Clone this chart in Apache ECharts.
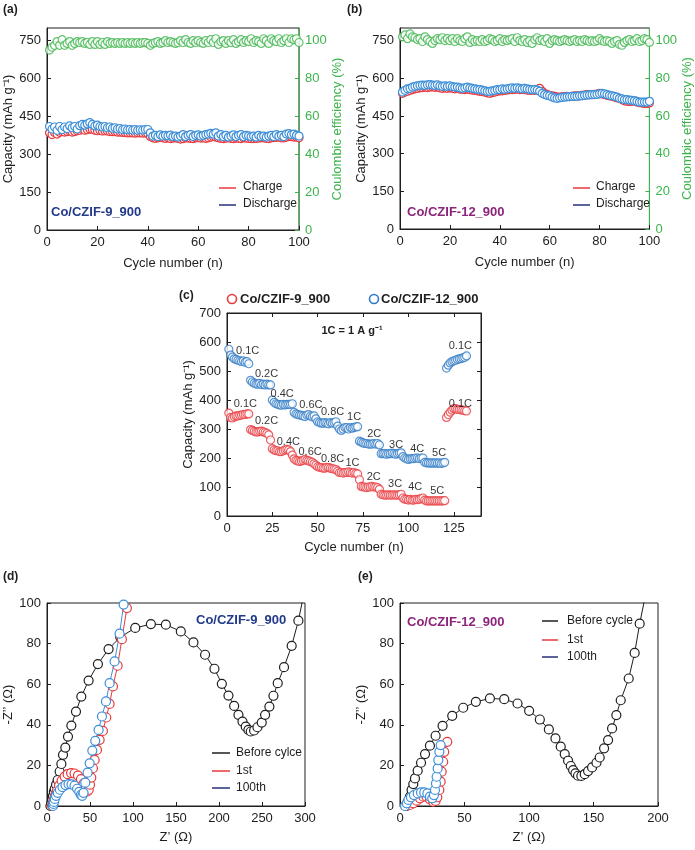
<!DOCTYPE html>
<html><head><meta charset="utf-8">
<script src="https://cdn.jsdelivr.net/npm/echarts@6/dist/echarts.min.js"></script>
<style>html,body{margin:0;padding:0;background:#fff}#c{width:695px;height:850px}</style>
</head><body><div id="c"></div>
<script>
// ---------- DATA ----------
// (a) Co/CZIF-9_900 cycling
const chargeA = [385,378,386,380,387,390,388,390,392,388, 390,393,395,398,395,397,400,398,395,393, 395,392,393,392,390,390,390,388,388,387, 386,385,385,385,384,385,385,384,385,382,
  370,365,363,365,367,365,363,365,362,364, 365,363,360,362,365,364,363,362,365,366, 364,365,363,365,368,370,368,365,363,362, 364,365,363,362,364,363,362,365,364,363,
  362,362,363,364,365,365,363,362,365,366, 367,368,365,365,368,370,370,368,368,365];
const dischargeA = [410,400,408,395,410,398,408,402,412,405, 410,400,413,418,415,420,425,418,412,415, 410,408,410,405,408,403,405,400,402,398, 400,397,398,396,398,395,397,396,398,398,
  385,372,375,370,377,372,375,373,376,370, 372,368,372,378,370,375,378,370,375,377, 372,375,378,380,383,380,385,372,378,370, 375,368,372,377,370,375,378,370,375,373,
  370,372,368,375,370,372,368,372,375,370, 378,372,375,370,380,382,378,380,375,372];
const ceA = [95,96.5,97.5,99.5,97.5,100.5,97.5,98.5,99.5,97.5, 98.5,99.5,99,99.5,98.5,99,98,99.5,98,99.5, 98,99,98,99.5,98.5,99,98.5,99,98.5,99, 98.5,99,98.5,99,98.5,99,98.5,99,99,98.5,
  97.5,98.5,99,99.5,98.5,99,100,99,99.5,99, 98.5,99,100,99,100.5,99,98.5,100,99,100, 99,98.5,100,99,100.5,99,101,98,99.5,100, 98.5,100,99,100.5,98.5,99.5,100.5,99,100,99.5,
  101,99,100,99.5,98.5,101,100,98.5,101,100, 99.5,101,99,100,101,99,101,100.5,101,99];
// (b) Co/CZIF-12_900 cycling
const chargeB = [540,545,548,552,555,558,560,562,563,565, 563,565,566,564,565,562,560,562,560,562, 560,558,560,557,556,555,557,555,553,552, 550,548,547,545,542,540,543,545,548,550,
  550,552,553,555,555,556,557,555,556,555, 553,552,553,552,555,560,548,540,535,532, 530,528,525,525,526,527,528,527,528,530, 530,530,532,533,535,535,535,536,537,540,
  538,535,532,530,528,525,522,520,515,510, 508,508,508,510,505,503,502,500,500,502];
const dischargeB = [545,552,558,560,565,568,570,572,573,572, 574,575,573,572,574,570,568,570,568,570, 567,565,565,562,560,562,565,562,560,558, 556,555,553,550,548,548,550,552,555,555,
  558,556,558,560,562,560,562,560,558,560, 558,556,555,555,553,548,540,535,532,530, 525,522,520,522,524,525,526,527,528,528, 528,530,530,532,533,534,535,535,536,538,
  540,538,535,532,530,528,525,520,518,515, 515,513,512,510,508,505,505,505,505,508];
const ceB = [102,103,101,103.5,102,101.5,100.5,101,99.5,102, 100.5,99.5,98.5,100,101,100.5,101.5,100,101,100, 101,99.5,101,100,99.5,101,102,99,100.5,99.5, 100,99.5,100.5,99.5,100,101,100.5,99.5,100,101,
  99.5,100.5,100,100.5,101,99.5,101.5,100,99.5,100.5, 99,100,98.5,100.5,101.5,100,100.5,99.5,101,98.5, 100,100.5,100,99.5,100,100.5,100,99.5,100,100.5, 99.5,100,99.5,100.5,100,99.5,100,99.5,100,101,
  100,99.5,100,99.5,98.5,99.5,100,98,97.5,99, 100,100.5,99.5,100,101,99.5,100,101,100.5,99];
// (c) rate capability, 12 cycles per rate
const rateRed = [355,340,338,342,345,345,347,348,350,350,352,352,
  298,295,292,290,290,292,293,290,288,285,280,262,
  232,228,225,225,222,222,225,228,230,228,222,210,
  197,192,190,188,190,192,195,192,190,188,185,180,
  175,170,168,167,165,165,168,167,165,163,162,160,
  155,150,150,148,150,150,152,150,148,150,147,145,
  125,102,100,100,98,100,100,102,100,100,98,92,
  75,73,72,72,73,72,72,73,72,72,73,75,
  62,58,57,55,57,55,55,57,56,58,60,62,
  55,52,52,52,52,52,52,52,52,52,52,53,
  340,350,358,365,370,370,368,367,366,365,363,362];
const rateBlue = [575,555,548,542,540,537,535,533,535,530,532,525,
  468,462,458,455,455,457,453,455,452,455,452,452,
  400,392,387,385,383,382,385,383,385,385,385,387,
  357,352,350,348,347,345,343,348,350,345,342,345,
  335,325,322,320,320,322,320,318,322,320,322,325,
  310,300,295,300,305,305,300,305,303,305,307,308,
  258,255,252,250,250,248,248,248,250,248,250,245,
  215,215,215,213,215,215,217,215,213,215,217,218,
  205,200,197,195,197,198,198,200,200,198,200,200,
  185,183,183,182,183,182,183,182,183,181,183,185,
  510,520,528,532,535,537,540,542,543,545,547,552];
const rateLabelsBlue = [[5,570,'0.1C'],[15.4,489,'0.2C'],[24,420,'0.4C'],[39.8,382,'0.6C'],[51.8,360,'0.8C'],[66.2,343,'1C'],[77.3,282,'2C'],[89.3,245,'3C'],[101,230,'4C'],[113,216,'5C'],[122.2,585,'0.1C']];
const rateLabelsRed = [[3.7,386,'0.1C'],[15.4,328,'0.2C'],[27.4,254,'0.4C'],[39.4,222,'0.6C'],[51.8,197,'0.8C'],[65.3,182,'1C'],[77,136,'2C'],[88.8,109,'3C'],[99.9,99,'4C'],[112,86,'5C'],[122.2,387,'0.1C']];
// (d) EIS Co/CZIF-9_900
const dBeforeX = [4,5,6,7,8,9,10.5,12.4,14.7,16.7,18.6,21.3,24.4,28.3,33.7,39.9,48.4,59.2,71.6,85.2,102.6,120.8,138.2,155.6,170.3,183.8,194.7,203.3,211,217.6,222.6,227.3,231.1,234.2,236.9,240.8,244.7,249.7,253.6,258.6,263.3,268.3,275.6,284.5,292.3,298];
const dBeforeY = [0,1.5,3,5,7,8.5,10.5,12.8,17,20.7,25.2,28.8,34.2,39.6,46.5,53.9,61.8,69.9,77.3,83.2,87.7,89.6,89.3,86,80.6,74.5,67.6,60.2,54.4,49.3,44.9,41.6,39.1,37.5,36.7,37.2,38.8,41.1,44.9,49,54.3,60.5,68.4,78.9,91.3,103];
const d1stX = [6,7,8,9.5,11.5,14,17,20.5,24,28,32,36,39.5,42.5,45,47,48.5,50,51.5,53.4,55.4,58.1,61.2,65,68.9,72.8,76.7,82.1,87.1,92.9,95];
const d1stY = [0,1.5,3,5,7.5,10,12.5,14.5,15.7,16.2,16,15,13.2,11,8.8,7.2,8,10.5,14,18.6,22.7,27.6,32.6,37,43.6,50.3,58.9,69.1,82.2,97.5,104];
const d100X = [7,7.5,8,9,10.5,12.5,15,18,21.5,25,28.5,32,35,37.5,39.5,41,42.5,44.5,47.2,49.6,52.7,56.1,60,63.9,68.6,72.8,78.6,84.4,89.1,91];
const d100Y = [0,1,2,3.5,5,6.5,8,9.3,10.3,10.8,10.7,10,8.5,7,5.5,5,6.5,11.5,16.4,21,27.3,32.1,37.5,44.1,51.5,60.5,71.2,84.9,99.2,104];
// (e) EIS Co/CZIF-12_900
const eBeforeX = [5,6,7.7,9,10.3,11.6,13.7,16.3,19.4,23.2,27.6,33,40.5,49,58.8,69.7,80.8,91.1,100.1,108.4,115.4,120.5,124.6,127.7,130.3,132.4,134.2,136,138,140.6,143.2,145.8,148.9,152.3,154.8,158.2,161.3,164.4,167.7,171.1,177.3,181.9,185.8,190];
const eBeforeY = [0,2,4.6,7.9,10.8,13.6,17.4,21.3,25.6,29.7,34.6,39.5,44.4,48.4,51.3,53,52.6,50.5,46.9,42.6,37.7,33.3,29.2,25.6,22.3,19.7,17.7,16.1,14.9,14.8,15.7,17.2,19,21.3,23.9,28.4,32.5,38.2,44.8,52.1,62.8,75.4,89.8,103];
const e1stX = [4,5.5,7.7,10.3,12.9,15.5,18.1,20.6,23.2,25.8,27.5,28.9,30.5,31.5,32.3,33.5,34.3,36.6];
const e1stY = [0,0.3,0.5,1.3,2.6,3.8,4.6,4.6,3.3,2.1,2.5,4.3,7.9,12,16.9,21.8,26.7,31.6];
const e100X = [3.9,5.2,6.5,8.5,10.8,13.7,16.3,18.8,21.2,23.2,25,26.3,27.1,27.9,28.4,29.2,29.7,30.5,31.5];
const e100Y = [0,1.3,3,4.3,5.4,6.2,6.7,6.7,6.2,4.6,3.8,5.4,7.9,11.1,14.4,18.5,22.6,26.7,30];

// ---------- STYLE ----------
const FF = "'Liberation Sans', Arial, Helvetica, sans-serif";
const RED = '#e8383d', BLUE = '#3d8ed8', NAVY = '#27317c', GREEN = '#3cb44b', INK = '#1e1e1e', TNAVY = '#23398a', PURPLE = '#8c2579';

function pairs(xs, ys){ return xs.map((x,i)=>[x, ys[i]]); }
function cyc(arr){ return arr.map((v,i)=>[i+1, v]); }

function ax(o){
  const col = o.color || INK;
  return Object.assign({
    type:'value', splitLine:{show:false},
    axisLine:{show:true, onZero:false, lineStyle:{color:col, width:1}},
    axisTick:{show:true, inside:true, length:4, lineStyle:{color:col}},
    nameLocation:'middle',
    nameTextStyle:{color:col, fontSize:13, fontFamily:FF}
  }, o.base, {axisLabel:Object.assign({color:col, fontSize:13, fontFamily:FF, margin:6}, o.label||{})});
}

const grids = [
  {left:47, top:28, width:252, height:202},
  {left:400, top:28, width:252, height:201},
  {left:227, top:313, width:254, height:203},
  {left:47, top:603, width:258, height:203},
  {left:400, top:603, width:258, height:203}
].map(g=>Object.assign({show:true, borderColor:INK, borderWidth:1, backgroundColor:'transparent'}, g));

const xAxes = [
  ax({base:{gridIndex:0, min:0, max:100, interval:20, name:'Cycle number (n)', nameGap:27}}),
  ax({base:{gridIndex:1, min:0, max:100, interval:20, name:'Cycle number (n)', nameGap:27}}),
  ax({base:{gridIndex:2, min:0, max:140, interval:25, name:'Cycle number (n)', nameGap:25}, label:{showMaxLabel:false}}),
  ax({base:{gridIndex:2, min:0, max:140, interval:25, position:'top'}, label:{show:false}}),
  ax({base:{gridIndex:3, min:0, max:300, interval:50, name:'Z’ (Ω)', nameGap:25}}),
  ax({base:{gridIndex:4, min:0, max:200, interval:50, name:'Z’ (Ω)', nameGap:25}})
];
const yAxes = [
  ax({base:{gridIndex:0, min:0, max:800, interval:150, name:'Capacity (mAh g⁻¹)', nameGap:31}, label:{showMaxLabel:false}}),
  ax({color:GREEN, base:{gridIndex:0, min:0, max:800/7.5, interval:20, position:'right', name:'Coulombic efficiency (%)', nameGap:19}, label:{showMaxLabel:false}}),
  ax({base:{gridIndex:1, min:0, max:800, interval:150, name:'Capacity (mAh g⁻¹)', nameGap:31}, label:{showMaxLabel:false}}),
  ax({color:GREEN, base:{gridIndex:1, min:0, max:800/7.5, interval:20, position:'right', name:'Coulombic efficiency (%)', nameGap:19}, label:{showMaxLabel:false}}),
  ax({base:{gridIndex:2, min:0, max:700, interval:100, name:'Capacity (mAh g⁻¹)', nameGap:30}}),
  ax({base:{gridIndex:2, min:0, max:700, interval:100, position:'right'}, label:{show:false}}),
  ax({base:{gridIndex:3, min:0, max:100, interval:20, name:'-Z’’ (Ω)', nameGap:23}}),
  ax({base:{gridIndex:4, min:0, max:100, interval:20, name:'-Z’’ (Ω)', nameGap:22}})
];

function lineS(xi, yi, data, lineCol, symCol, size, lw){
  return {type:'line', xAxisIndex:xi, yAxisIndex:yi, data, symbol:'circle', symbolSize:size, showAllSymbol:true,
    itemStyle:{color:'#fff', borderColor:symCol, borderWidth:1.2}, lineStyle:{color:lineCol, width:lw||1}, animation:false, silent:true};
}
function scat(xi, yi, data, col, size){
  return {type:'scatter', xAxisIndex:xi, yAxisIndex:yi, data, symbol:'circle', symbolSize:size,
    itemStyle:{color:'#fff', borderColor:col, borderWidth:1.2}, animation:false, silent:true};
}
function labelS(data, col){
  return {type:'scatter', xAxisIndex:2, yAxisIndex:4, symbolSize:0, silent:true, animation:false, z:5,
    data:data.map(d=>({name:d[2], value:[d[0], d[1]]})),
    label:{show:true, position:'right', distance:0, formatter:'{b}', color:col, fontSize:11, fontFamily:FF, textBorderWidth:0}};
}

const series = [
  lineS(0,0,cyc(chargeA), RED, RED, 8),
  lineS(0,0,cyc(dischargeA), NAVY, BLUE, 8),
  scat(0,1,cyc(ceA), GREEN, 8),
  lineS(1,2,cyc(chargeB), RED, RED, 8),
  lineS(1,2,cyc(dischargeB), NAVY, BLUE, 8),
  scat(1,3,cyc(ceB), GREEN, 8),
  scat(2,4,cyc(rateBlue), '#2f7bc6', 8),
  scat(2,4,cyc(rateRed), RED, 8),
  labelS(rateLabelsBlue, '#000'),
  labelS(rateLabelsRed, '#000'),
  lineS(4,6,pairs(dBeforeX,dBeforeY), INK, INK, 9),
  lineS(4,6,pairs(d1stX,d1stY), RED, RED, 9),
  lineS(4,6,pairs(d100X,d100Y), BLUE, BLUE, 9),
  lineS(5,7,pairs(eBeforeX,eBeforeY), INK, INK, 9),
  lineS(5,7,pairs(e1stX,e1stY), RED, RED, 9),
  lineS(5,7,pairs(e100X,e100Y), BLUE, BLUE, 9)
];

function txt(x, y, t, opt){
  opt = opt || {};
  return {type:'text', x, y, z:10, silent:true, style:{text:t, fill:opt.fill||INK,
    font:(opt.bold?'bold ':'')+(opt.size||13)+'px '+FF, align:opt.align||'left', verticalAlign:'middle',
    textAlign:opt.align||'left', textVerticalAlign:'middle'}};
}
function seg(x1, x2, y, col){
  return {type:'line', z:10, silent:true, shape:{x1, y1:y, x2, y2:y}, style:{stroke:col, lineWidth:1.5}};
}
function circ(x, y, col){
  return {type:'circle', z:10, silent:true, shape:{cx:x, cy:y, r:4.5}, style:{stroke:col, fill:'#fff', lineWidth:1.6}};
}

const graphic = [
  txt(3, 10, '(a)', {bold:true, size:12}),
  txt(347, 10, '(b)', {bold:true, size:12}),
  txt(179, 296, '(c)', {bold:true, size:12}),
  txt(3, 577, '(d)', {bold:true, size:12}),
  txt(358, 577, '(e)', {bold:true, size:12}),
  seg(219, 236, 188, RED), txt(243, 187, 'Charge', {size:12}),
  seg(219, 236, 205, NAVY), txt(243, 204, 'Discharge', {size:12}),
  txt(51, 212, 'Co/CZIF-9_900', {bold:true, fill:TNAVY}),
  seg(573, 590, 188, RED), txt(596, 187, 'Charge', {size:12}),
  seg(573, 590, 205, NAVY), txt(596, 204, 'Discharge', {size:12}),
  txt(407, 212, 'Co/CZIF-12_900', {bold:true, fill:PURPLE}),
  circ(232, 299, RED), txt(240, 299, 'Co/CZIF-9_900', {bold:true}),
  circ(374, 299, '#2f7bc6'), txt(381, 299, 'Co/CZIF-12_900', {bold:true}),
  txt(352, 331, '1C = 1 A g⁻¹', {bold:true, size:11, align:'center'}),
  txt(196, 620, 'Co/CZIF-9_900', {bold:true, fill:TNAVY}),
  seg(212, 230, 753, INK), txt(236, 753, 'Before cylce', {size:12}),
  seg(212, 230, 771, RED), txt(236, 771, '1st', {size:12}),
  seg(212, 230, 788, NAVY), txt(236, 788, '100th', {size:12}),
  txt(407, 622, 'Co/CZIF-12_900', {bold:true, fill:PURPLE}),
  seg(542, 558, 621, INK), txt(567, 621, 'Before cycle', {size:12}),
  seg(542, 558, 640, RED), txt(567, 640, '1st', {size:12}),
  seg(542, 558, 657, NAVY), txt(567, 657, '100th', {size:12})
];

const chart = echarts.init(document.getElementById('c'), null, {renderer:'canvas'});
chart.setOption({animation:false, backgroundColor:'#fff', textStyle:{fontFamily:FF}, grid:grids, xAxis:xAxes, yAxis:yAxes, series, graphic});
</script></body></html>
